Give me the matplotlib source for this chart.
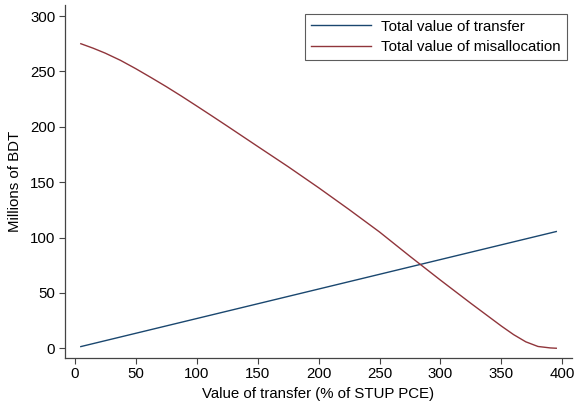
import numpy as np
import matplotlib.pyplot as plt

plt.rcParams['font.family'] = ['Liberation Sans', 'DejaVu Sans']

# transfer value (% of STUP PCE)
x_transfer = [5, 395]
y_transfer = [1.5, 105.4]

x_misalloc = [5, 15, 25, 37.5, 50, 62.5, 75, 87.5, 100, 112.5, 125, 137.5, 150,
              175, 200, 225, 250, 275, 300, 325, 350, 360, 370, 380, 390, 395]
y_misalloc = [275, 271, 266.5, 260, 252.5, 244.5, 236.3, 227.7, 218.8, 209.8,
              200.7, 191.5, 182.3, 164, 145, 125.3, 105, 83, 61.5, 40.5, 20,
              12.3, 5.8, 1.6, 0.3, 0]

xticks = [0, 50, 100, 150, 200, 250, 300, 350, 400]
yticks = [0, 50, 100, 150, 200, 250, 300]

fs = 10.8

fig = plt.figure(figsize=(5.75, 4.13), dpi=100)
ax = fig.add_axes([0.113, 0.134, 0.882, 0.854])

ax.plot(x_transfer, y_transfer, color='#1a476f', lw=1.0, label='Total value of transfer')
ax.plot(x_misalloc, y_misalloc, color='#90353b', lw=1.0, label='Total value of misallocation')

ax.set_xlim(-8, 408)
ax.set_ylim(-8.5, 310)
ax.set_xticks(xticks)
ax.set_yticks(yticks)
ax.tick_params(labelsize=fs, length=4, width=0.8, color='#444444', pad=3)
for s in ['top', 'right']:
    ax.spines[s].set_visible(False)
for s in ['left', 'bottom']:
    ax.spines[s].set_color('#444444')
    ax.spines[s].set_linewidth(0.9)

ax.set_xlabel('Value of transfer (% of STUP PCE)', fontsize=fs, labelpad=4)
ax.set_ylabel('Millions of BDT', fontsize=fs, labelpad=6)

leg = ax.legend(loc='upper right', bbox_to_anchor=(1.004, 0.997), fontsize=fs,
                frameon=True, fancybox=False, edgecolor='#333333',
                handlelength=4.0, handletextpad=0.7, borderpad=0.4,
                labelspacing=0.45)
leg.get_frame().set_linewidth(0.8)

fig.savefig('out.png', dpi=100)
